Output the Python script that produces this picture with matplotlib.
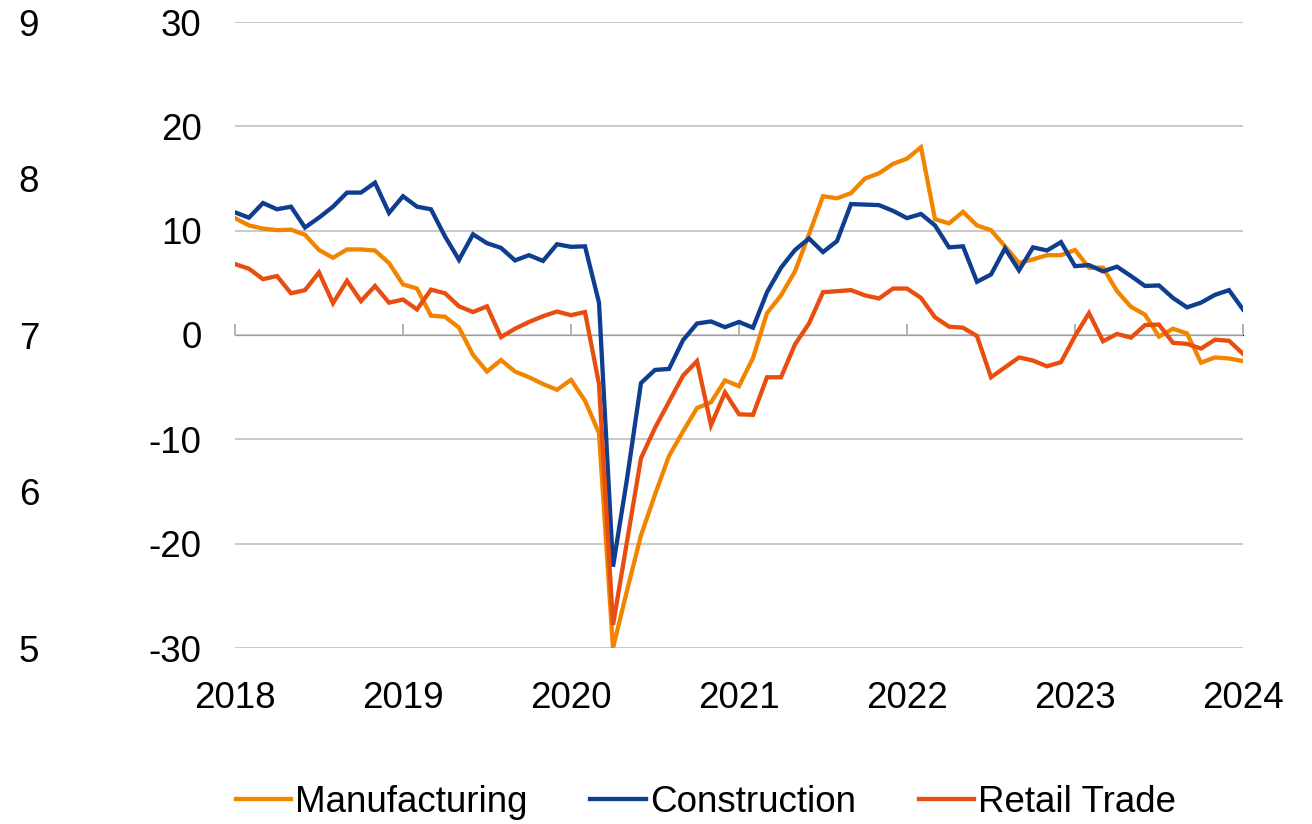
import matplotlib
matplotlib.use("Agg")
import matplotlib.pyplot as plt
import numpy as np

plt.rcParams['font.family'] = ['Liberation Sans', 'DejaVu Sans']

years = ["2018", "2019", "2020", "2021", "2022", "2023", "2024"]

manufacturing = [11.2, 10.5, 10.2, 10.05, 10.1, 9.6, 8.15, 7.4, 8.2, 8.2, 8.1, 6.9,
                 4.85, 4.45, 1.85, 1.75, 0.7, -1.9, -3.5, -2.4, -3.5, -4.05, -4.7, -5.25,
                 -4.3, -6.3, -9.4, -30.0, -24.5, -19.2, -15.3, -11.6, -9.25, -7.0, -6.45, -4.35,
                 -4.9, -2.2, 2.1, 3.8, 6.1, 9.65, 13.3, 13.1, 13.6, 15.0, 15.5, 16.4,
                 16.9, 18.0, 11.1, 10.7, 11.8, 10.5, 10.05, 8.5, 6.9, 7.25, 7.65, 7.65,
                 8.15, 6.45, 6.45, 4.2, 2.7, 1.95, -0.15, 0.6, 0.15, -2.65, -2.15, -2.25,
                 -2.5]

construction = [11.75, 11.25, 12.65, 12.05, 12.3, 10.3, 11.25, 12.3, 13.65, 13.65, 14.6, 11.7,
                13.3, 12.3, 12.05, 9.45, 7.2, 9.65, 8.8, 8.35, 7.15, 7.65, 7.1, 8.7,
                8.45, 8.5, 3.1, -22.2, -13.8, -4.6, -3.35, -3.25, -0.5, 1.1, 1.3, 0.75,
                1.25, 0.7, 4.1, 6.45, 8.15, 9.25, 7.95, 9.0, 12.55, 12.5, 12.45, 11.9,
                11.2, 11.6, 10.5, 8.4, 8.5, 5.1, 5.8, 8.3, 6.2, 8.4, 8.1, 8.9,
                6.6, 6.7, 6.1, 6.55, 5.65, 4.7, 4.75, 3.55, 2.65, 3.1, 3.85, 4.3,
                2.45]

retail = [6.8, 6.35, 5.35, 5.65, 4.0, 4.3, 6.0, 3.05, 5.2, 3.25, 4.7, 3.1,
          3.4, 2.45, 4.35, 4.0, 2.75, 2.2, 2.75, -0.2, 0.6, 1.25, 1.8, 2.25,
          1.9, 2.2, -4.7, -27.8, -19.8, -11.8, -8.9, -6.4, -3.9, -2.5, -8.65, -5.5,
          -7.6, -7.65, -4.05, -4.05, -0.9, 1.1, 4.1, 4.2, 4.3, 3.8, 3.5, 4.45,
          4.45, 3.55, 1.7, 0.8, 0.7, -0.1, -4.05, -3.1, -2.15, -2.45, -3.0, -2.6,
          -0.1, 2.1, -0.6, 0.1, -0.25, 0.95, 1.0, -0.75, -0.85, -1.3, -0.45, -0.55,
          -1.8]

left_ticks = [30, 20, 10, 0, -10, -20, -30]
sec_ticks = [9, 8, 7, 6, 5]

series_names = ["Manufacturing", "Construction", "Retail Trade"]
colors = ["#F28500", "#0F3E8E", "#E84E10"]

W, H = 1312, 824
fig = plt.figure(figsize=(W / 100, H / 100), dpi=100)
ax = fig.add_axes([235 / W, 1 - 648 / H, 1008 / W, 626 / H])

x = np.arange(len(manufacturing))
FS = 26.5

for data, name, c in zip([manufacturing, construction, retail], series_names, colors):
    ax.plot(x, data, color=c, lw=3.1, label=name, solid_joinstyle='miter', zorder=3)

ax.set_xlim(0, 72)
ax.set_ylim(-30, 30)
ax.set_yticks(left_ticks)
ax.set_yticklabels([str(t) for t in left_ticks])
ax.tick_params(axis='y', length=0, pad=24, labelsize=FS)
ax.grid(axis='y', color='#C0C0C0', lw=1.2, zorder=0)
ax.set_axisbelow(True)

xt = np.arange(0, 73, 12)
ax.set_xticks(xt)
ax.set_xticklabels(years)
ax.tick_params(axis='x', length=0, pad=24, labelsize=FS)

for s in ax.spines.values():
    s.set_visible(False)

# zero axis with year tick marks
sec = ax.secondary_xaxis(0.5)
sec.set_xticks(xt)
sec.tick_params(axis='x', direction='out', length=8, width=1.2, color='#A6A6A6',
                labelbottom=False, labeltop=False)
sec.spines['bottom'].set_color('#A6A6A6')
sec.spines['bottom'].set_linewidth(1.2)

# secondary left axis
ax2 = ax.twinx()
ax2.set_ylim(5, 9)
ax2.set_yticks(sec_ticks)
ax2.set_yticklabels([str(t) for t in sec_ticks])
ax2.yaxis.set_ticks_position('left')
ax2.yaxis.set_label_position('left')
ax2.tick_params(axis='y', length=0, pad=141, labelsize=FS)
for s in ax2.spines.values():
    s.set_visible(False)

handles, labels = ax.get_legend_handles_labels()
fig.legend(handles, labels, loc='center', bbox_to_anchor=(706 / W, 1 - 802 / H),
           ncol=3, frameon=False, fontsize=FS, handlelength=1.5, handletextpad=0.12,
           columnspacing=1.7, borderpad=0, borderaxespad=0)

fig.savefig("out.png", dpi=100)
